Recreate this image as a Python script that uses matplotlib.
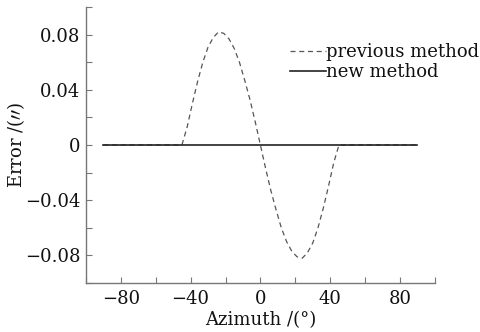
import matplotlib
matplotlib.use("Agg")
import matplotlib.pyplot as plt
from matplotlib.ticker import MultipleLocator

plt.rcParams['font.family'] = ['DejaVu Serif']
plt.rcParams['mathtext.fontset'] = 'dejavuserif'

# previous method
prev_x = [-90, -45, -42, -39, -36, -33, -30, -27, -24, -21, -18, -15, -12, -9, -6, -3, 0,
          3, 6, 9, 12, 15, 18, 21, 24, 27, 30, 33, 36, 39, 42, 45, 90]
prev_y = [0, 0, 0.013, 0.030, 0.046, 0.060, 0.071, 0.078, 0.082, 0.081, 0.077, 0.070, 0.060,
          0.047, 0.033, 0.017, 0,
          -0.017, -0.033, -0.047, -0.060, -0.070, -0.077, -0.081, -0.082, -0.078, -0.071,
          -0.060, -0.046, -0.030, -0.013, 0, 0]
# new method
new_x = [-90, 90]
new_y = [0, 0]

xticks = [-80, -40, 0, 40, 80]
yticks = [-0.08, -0.04, 0, 0.04, 0.08]
ytick_labels = ['\u22120.08', '\u22120.04', '0', '0.04', '0.08']

fig = plt.figure(figsize=(4.8, 3.32), dpi=100)
ax = fig.add_axes([0.179, 0.1476, 0.727, 0.831])

ax.plot(prev_x, prev_y, color='#555555', lw=0.9, ls=(0, (4, 3)), label='previous method')
ax.plot(new_x, new_y, color='#222222', lw=1.2, label='new method')

ax.set_xlim(-100, 100)
ax.set_ylim(-0.1, 0.1)
ax.set_xticks(xticks)
ax.set_yticks(yticks)
ax.set_yticklabels(ytick_labels)
ax.xaxis.set_minor_locator(MultipleLocator(20))
ax.yaxis.set_minor_locator(MultipleLocator(0.02))

for s in ['top', 'right']:
    ax.spines[s].set_visible(False)
for s in ['left', 'bottom']:
    ax.spines[s].set_color('#777777')
    ax.spines[s].set_linewidth(1.0)

ax.tick_params(which='both', direction='in', color='#777777', width=0.8)
ax.tick_params(which='major', length=4, labelsize=13, pad=5, labelcolor='#111111')
ax.tick_params(axis='y', which='major', pad=4)
ax.tick_params(which='minor', length=4)

ax.set_xlabel('Azimuth /(°)', fontsize=13, labelpad=2, color='#111111')
ax.set_ylabel(r'Error /($\prime\prime$)', fontsize=13, color='#111111')
ax.yaxis.set_label_coords(-0.17, 0.5)

leg = ax.legend(loc='upper left', bbox_to_anchor=(0.565, 0.895), frameon=False,
                fontsize=13, handlelength=2.0, handletextpad=0.0, labelspacing=0.1,
                borderaxespad=0)
for t in leg.get_texts():
    t.set_color('#111111')

fig.savefig('out.png', dpi=100, facecolor='white')
